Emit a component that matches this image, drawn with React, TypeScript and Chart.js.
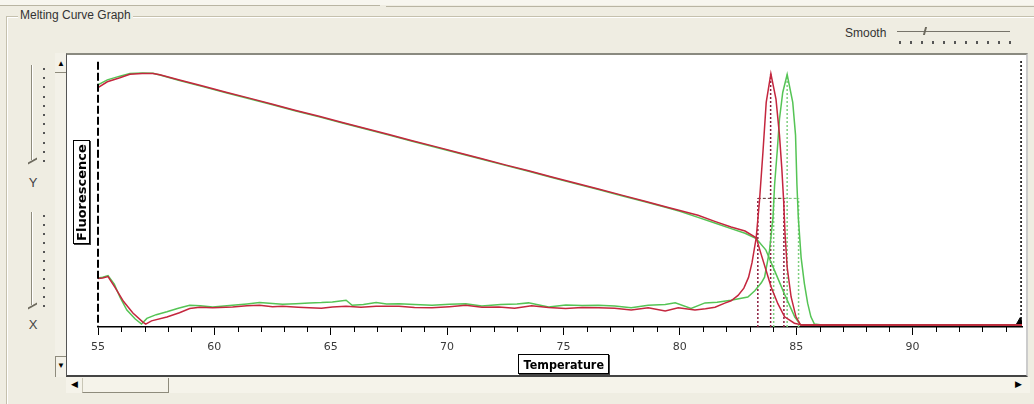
import React, { useEffect, useRef } from "react";
import { Chart, registerables } from "chart.js";

Chart.register(...registerables);

// ---------- axis ----------
const X_MIN = 55;
const X_MAX = 94.7;
const Y_MIN = 0;
const Y_MAX = 100;
const majorTickStep = 5;

// ---------- fluorescence (melt) curves ----------
const redFluorT = [55.0, 55.4, 55.94, 56.37, 56.9, 57.36, 57.66, 58.5, 59.5, 60.5, 61.5, 62.5, 63.5, 64.5, 65.5, 66.5, 67.5, 68.5, 69.5, 70.5, 71.5, 72.5, 73.5, 74.5, 75.5, 76.5, 77.5, 78.5, 79.5, 80.0, 80.78, 81.5, 82.2, 82.8, 83.28, 83.49, 83.71, 83.92, 84.21, 84.5, 84.92, 85.28, 88.0, 91.0, 94.7];
const redFluorV = [89.3, 91.5, 93.0, 94.3, 94.6, 94.6, 94.1, 92.2, 89.9, 87.6, 85.4, 83.1, 80.8, 78.6, 76.3, 74.1, 71.8, 69.5, 67.3, 65.0, 62.8, 60.5, 58.3, 56.0, 53.7, 51.5, 49.2, 46.9, 44.6, 43.5, 41.7, 39.4, 37.3, 35.8, 33.3, 27.2, 21.0, 14.9, 8.7, 3.8, 1.4, 0.7, 0.7, 0.7, 0.7];

const greenFluorT = [55.0, 55.4, 55.94, 56.37, 56.9, 57.36, 57.66, 58.5, 59.5, 60.5, 61.5, 62.5, 63.5, 64.5, 65.5, 66.5, 67.5, 68.5, 69.5, 70.5, 71.5, 72.5, 73.5, 74.5, 75.5, 76.5, 77.5, 78.5, 79.5, 80.0, 80.78, 81.5, 82.2, 82.8, 83.28, 83.69, 84.12, 84.51, 84.94, 85.19, 88.0, 91.0, 94.7];
const greenFluorV = [90.4, 92.2, 93.6, 94.6, 94.8, 94.7, 94.0, 92.0, 89.7, 87.4, 85.2, 82.9, 80.6, 78.4, 76.1, 73.9, 71.6, 69.3, 67.1, 64.8, 62.6, 60.3, 58.1, 55.8, 53.5, 51.3, 49.0, 46.7, 44.4, 43.2, 40.9, 38.8, 36.7, 35.0, 33.0, 28.8, 20.0, 12.0, 3.7, 0.7, 0.7, 0.7, 0.7];

// ---------- derivative (-dF/dT) curves ----------
const redDerivT = [55.0, 55.2, 55.43, 55.73, 56.1, 56.5, 56.93, 57.05, 57.3, 57.96, 58.5, 58.94, 59.37, 59.93, 60.78, 61.4, 61.94, 62.5, 62.93, 63.6, 64.08, 64.6, 65.07, 65.66, 66.3, 66.95, 67.93, 68.6, 69.35, 70.1, 70.8, 71.5, 72.22, 72.9, 73.63, 74.36, 75.09, 75.8, 76.5, 77.2, 77.91, 78.64, 79.37, 79.93, 80.65, 81.1, 81.51, 81.93, 82.2, 82.5, 82.75, 82.95, 83.1, 83.28, 83.42, 83.57, 83.71, 83.91, 84.13, 84.28, 84.38, 84.46, 84.52, 84.61, 84.78, 84.99, 85.19, 86.0, 89.0, 92.0, 94.7];
const redDerivV = [18.1, 18.3, 18.8, 14.8, 9.5, 5.2, 1.8, 1.1, 2.3, 3.7, 5.3, 6.9, 7.4, 7.2, 7.5, 7.9, 8.1, 7.6, 7.7, 7.4, 7.2, 7.0, 7.5, 7.7, 7.4, 7.7, 7.7, 7.3, 7.2, 7.6, 8.1, 7.4, 7.5, 7.0, 7.9, 7.3, 6.9, 7.3, 7.2, 7.0, 6.3, 7.2, 6.0, 7.2, 6.3, 6.8, 7.4, 8.9, 9.8, 11.8, 14.5, 18.5, 24.0, 33.3, 46.9, 65.3, 83.8, 94.5, 85.0, 71.6, 59.2, 46.9, 34.7, 22.3, 11.2, 3.8, 0.7, 0.7, 0.7, 0.7, 0.7];

const greenDerivT = [55.0, 55.2, 55.43, 55.7, 55.95, 56.24, 56.6, 56.87, 57.1, 57.5, 57.96, 58.45, 58.94, 59.4, 59.93, 60.78, 61.4, 61.94, 62.5, 62.93, 63.5, 64.08, 64.6, 65.07, 65.66, 65.92, 66.4, 66.95, 67.4, 67.93, 68.6, 69.35, 70.1, 70.8, 71.49, 72.3, 73.0, 73.5, 74.36, 75.1, 75.8, 76.5, 77.2, 77.91, 78.64, 79.37, 79.8, 80.48, 81.08, 81.6, 82.19, 82.92, 83.22, 83.5, 83.64, 83.85, 84.0, 84.07, 84.18, 84.28, 84.42, 84.61, 84.85, 84.97, 85.03, 85.09, 85.21, 85.35, 85.49, 85.63, 85.78, 86.2, 89.0, 92.0, 94.7];
const greenDerivV = [18.3, 18.6, 19.2, 16.0, 11.0, 6.3, 3.0, 1.1, 3.2, 4.6, 5.7, 7.0, 8.1, 7.9, 7.5, 8.1, 8.6, 9.1, 8.8, 8.5, 8.7, 9.0, 9.1, 9.3, 10.0, 8.1, 8.4, 9.1, 8.6, 8.7, 8.4, 8.1, 8.5, 8.7, 7.8, 8.4, 8.6, 9.0, 7.5, 8.2, 8.0, 8.1, 7.8, 7.2, 8.1, 8.4, 9.0, 6.9, 9.0, 9.2, 10.0, 11.2, 13.5, 16.5, 18.6, 28.4, 40.7, 53.1, 65.3, 77.6, 87.5, 94.2, 83.8, 71.6, 53.1, 40.7, 25.9, 16.2, 8.9, 3.8, 1.1, 0.7, 0.7, 0.7, 0.7];

// ---------- Tm markers ----------
const redMarkerT = [83.35, 83.9, 84.47];
const redMarkerTop = [48, 94.5, 48];
const greenMarkerT = [84.03, 84.61, 85.1];
const greenMarkerTop = [48, 94.2, 48];
const halfMaxLevel = 48;
const cursorT = 94.66;
const endMarker = { x: 94.62, y: 1.6 };

const RED = "#c4263e";
const GREEN = "#55c455";

const zip = (xs: number[], ys: number[]) => xs.map((x, i) => ({ x, y: ys[i] }));
const markerLines = (ts: number[], tops: number[]) =>
  ts.flatMap((t, i) => [
    { x: t, y: 0 },
    { x: t, y: tops[i] },
    { x: t, y: null as any },
  ]);

const axisDeco = {
  id: "axisDeco",
  afterDraw(chart: any) {
    const { ctx, chartArea, scales } = chart;
    const xs = scales.x;
    const ys = scales.y;
    ctx.save();
    // dashed y axis
    ctx.strokeStyle = "#000";
    ctx.lineWidth = 2;
    ctx.setLineDash([8, 3]);
    ctx.beginPath();
    ctx.moveTo(chartArea.left, ys.getPixelForValue(99));
    ctx.lineTo(chartArea.left, chartArea.bottom);
    ctx.stroke();
    // minor ticks
    ctx.setLineDash([]);
    ctx.lineWidth = 1;
    ctx.beginPath();
    for (let t = Math.ceil(X_MIN); t <= X_MAX; t++) {
      if (t % majorTickStep === 0) continue;
      const px = Math.round(xs.getPixelForValue(t)) + 0.5;
      ctx.moveTo(px, chartArea.bottom);
      ctx.lineTo(px, chartArea.bottom + 5);
    }
    ctx.stroke();
    ctx.restore();
  },
};

function MeltChart() {
  const ref = useRef<HTMLCanvasElement | null>(null);
  useEffect(() => {
    if (!ref.current) return;
    const lineBase = { pointRadius: 0, borderWidth: 1.5, tension: 0, fill: false };
    const chart = new Chart(ref.current, {
      type: "line",
      data: {
        datasets: [
          { ...lineBase, label: "red melt", data: zip(redFluorT, redFluorV), borderColor: RED },
          { ...lineBase, label: "red deriv", data: zip(redDerivT, redDerivV), borderColor: RED },
          { ...lineBase, label: "green melt", data: zip(greenFluorT, greenFluorV), borderColor: GREEN },
          { ...lineBase, label: "green deriv", data: zip(greenDerivT, greenDerivV), borderColor: GREEN },
          { ...lineBase, label: "red Tm", data: markerLines(redMarkerT, redMarkerTop), borderColor: "#8a1c3c", borderDash: [2, 2], spanGaps: false },
          { ...lineBase, label: "green Tm", data: markerLines(greenMarkerT, greenMarkerTop), borderColor: "#7fcf7f", borderDash: [2, 2], spanGaps: false },
          { ...lineBase, label: "red half", data: [{ x: redMarkerT[0], y: halfMaxLevel }, { x: redMarkerT[2], y: halfMaxLevel }], borderColor: "#5a3030", borderDash: [3, 2], borderWidth: 1 },
          { ...lineBase, label: "green half", data: [{ x: greenMarkerT[0], y: halfMaxLevel }, { x: greenMarkerT[2], y: halfMaxLevel }], borderColor: "#6cbf6c", borderDash: [3, 2], borderWidth: 1 },
          { ...lineBase, label: "cursor", data: [{ x: cursorT, y: Y_MIN }, { x: cursorT, y: Y_MAX }], borderColor: "#000", borderDash: [2, 2] },
          { label: "end", data: [endMarker], showLine: false, pointStyle: "triangle", pointRadius: 5, pointBackgroundColor: "#000", pointBorderColor: "#000" },
        ] as any,
      },
      options: {
        animation: false,
        responsive: true,
        maintainAspectRatio: false,
        layout: { padding: { left: 32, right: 3, top: 3, bottom: 0 } },
        plugins: { legend: { display: false }, tooltip: { enabled: false } },
        scales: {
          x: {
            type: "linear",
            min: X_MIN,
            max: X_MAX,
            afterFit: (s: any) => {
              s.height = 50;
            },
            ticks: {
              stepSize: 1,
              autoSkip: false,
              maxRotation: 0,
              padding: 6,
              color: "#3a3a3a",
              font: { family: "DejaVu Sans", size: 11 },
              callback: (v: any) => (Number(v) % majorTickStep === 0 ? String(v) : ""),
            },
            grid: {
              drawOnChartArea: false,
              tickLength: 8,
              tickColor: (c: any) => (c.tick && Number(c.tick.value) % majorTickStep === 0 ? "#000" : "rgba(0,0,0,0)"),
            },
            border: { color: "#000", width: 1.5 },
          },
          y: { display: false, min: Y_MIN, max: Y_MAX },
        },
      } as any,
      plugins: [axisDeco],
    });
    return () => chart.destroy();
  }, []);
  return <canvas ref={ref} />;
}

const abs = (s: React.CSSProperties): React.CSSProperties => ({ position: "absolute", ...s });
const uiFont = "'Liberation Sans', Arial, sans-serif";

function VSlider({ top, bottom, label, labelY }: { top: number; bottom: number; label: string; labelY: number }) {
  const dots = [];
  const n = 11;
  for (let i = 0; i < n; i++) {
    const y = top + 3 + ((bottom - top - 3) * i) / (n - 1);
    dots.push(<div key={i} style={abs({ left: 43, top: y, width: 2, height: 2, background: "#555" })} />);
  }
  return (
    <>
      <div style={abs({ left: 31, top, width: 1, height: bottom - top, background: "#8e8b7c" })} />
      <div style={abs({ left: 32, top, width: 1, height: bottom - top, background: "#fff" })} />
      {dots}
      <div style={abs({ left: 28, top: bottom, width: 9, height: 2, background: "#6d6a5e", transform: "skewY(-30deg)" })} />
      <div style={abs({ left: 27, top: labelY - 8, width: 12, textAlign: "center", font: `13px ${uiFont}`, color: "#444" })}>{label}</div>
    </>
  );
}

export default function App() {
  const smoothDots = [];
  for (let i = 0; i < 11; i++) {
    smoothDots.push(<div key={i} style={abs({ left: 899 + i * 11, top: 41, width: 2, height: 3, background: "#555" })} />);
  }
  return (
    <div style={abs({ position: "fixed", left: 0, top: 0, width: 1034, height: 404, background: "#efede2", overflow: "hidden" })}>
      {/* top strip */}
      <div style={abs({ left: 0, top: 0, width: 1034, height: 5, background: "#f7f6ef" })} />
      <div style={abs({ left: 0, top: 5, width: 380, height: 1, background: "#b9b5a3" })} />
      <div style={abs({ left: 386, top: 6, width: 648, height: 1, background: "#b9b5a3" })} />
      {/* group box */}
      <div style={abs({ left: 6, top: 16, width: 1040, height: 400, borderTop: "1px solid #c5c1ae", borderLeft: "1px solid #c5c1ae" })} />
      <div style={abs({ left: 7, top: 17, width: 1040, height: 400, borderTop: "1px solid #fff", borderLeft: "1px solid #fff" })} />
      <div style={abs({ left: 18, top: 8, padding: "0 2px", background: "#efede2", font: `12px ${uiFont}`, color: "#333" })}>Melting Curve Graph</div>
      {/* smooth slider */}
      <div style={abs({ left: 845, top: 26, font: `12px ${uiFont}`, color: "#333" })}>Smooth</div>
      <div style={abs({ left: 897, top: 31, width: 113, height: 1, background: "#77746a" })} />
      <div style={abs({ left: 924, top: 27, width: 2, height: 8, background: "#6d6a5e", transform: "skewX(-15deg)" })} />
      {smoothDots}
      {/* left sliders */}
      <VSlider top={65} bottom={160} label="Y" labelY={183} />
      <VSlider top={212} bottom={305} label="X" labelY={325} />
      {/* vertical scrollbar */}
      <div style={abs({ left: 55, top: 53, width: 11, height: 324, background: "#f3f1e8" })} />
      <div style={abs({ left: 55, top: 72, width: 11, height: 1, background: "#8e8b7c" })} />
      <div style={abs({ left: 55, top: 356, width: 11, height: 1, background: "#8e8b7c" })} />
      <div style={abs({ left: 55, top: 356, width: 1, height: 21, background: "#8e8b7c" })} />
      <div style={abs({ left: 57, top: 59, font: `8px ${uiFont}`, color: "#000" })}>▲</div>
      <div style={abs({ left: 57, top: 361, font: `8px ${uiFont}`, color: "#000" })}>▼</div>
      {/* horizontal scrollbar */}
      <div style={abs({ left: 66, top: 377, width: 964, height: 16, background: "#f5f3ea" })} />
      <div style={abs({ left: 82, top: 378, width: 85, height: 14, borderRight: "1px solid #8e8b7c", borderBottom: "1px solid #8e8b7c", borderLeft: "1px solid #c9c6b6" })} />
      <div style={abs({ left: 71, top: 379, font: `9px ${uiFont}`, color: "#000" })}>◀</div>
      <div style={abs({ left: 1015, top: 379, font: `9px ${uiFont}`, color: "#000" })}>▶</div>
      {/* plot panel */}
      <div style={abs({ left: 66, top: 53, width: 962, height: 324, background: "#fff", borderTop: "2px solid #8a8a80", borderLeft: "1px solid #555", borderBottom: "2px solid #444", borderRight: "2px solid #ccc", boxSizing: "border-box" })} />
      <div style={abs({ left: 66, top: 53, width: 962, height: 324 })}>
        <MeltChart />
      </div>
      {/* axis titles */}
      <div
        style={abs({
          left: 73,
          top: 140,
          width: 15,
          height: 102,
          border: "1px solid #000",
          boxShadow: "1px 1px 0 #444",
          background: "#fff",
          display: "flex",
          alignItems: "center",
          justifyContent: "center",
        })}
      >
        <div style={{ transform: "rotate(-90deg)", font: `bold 13px 'DejaVu Sans', sans-serif`, whiteSpace: "nowrap", color: "#000" }}>Fluorescence</div>
      </div>
      <div
        style={abs({
          left: 518,
          top: 354,
          width: 89,
          height: 18,
          border: "1px solid #000",
          boxShadow: "1px 1px 0 #444",
          background: "#fff",
          display: "flex",
          alignItems: "center",
          justifyContent: "center",
          overflow: "visible",
        })}
      >
        <div style={{ transform: "scaleX(0.86)", font: `bold 13px 'DejaVu Sans', sans-serif`, whiteSpace: "nowrap", color: "#000" }}>Temperature</div>
      </div>
    </div>
  );
}
